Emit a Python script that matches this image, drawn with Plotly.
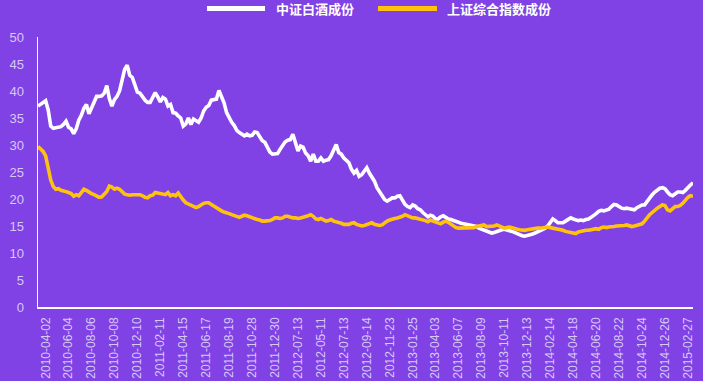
import plotly.graph_objects as go

# 中证白酒成份 (white line) – weekly values
baijiu = [
    37.2, 37.6, 38.0, 38.2, 36.5, 33.5, 33.1, 33.2, 33.2, 33.4,
    33.8, 34.4, 33.3, 33.0, 32.1, 33.0, 34.6, 35.5, 36.8, 37.5,
    35.8, 37.0, 38.2, 39.0, 39.0, 39.1, 39.6, 41.0, 38.6, 37.2,
    38.4, 39.0, 40.0, 41.8, 44.0, 44.8, 42.9, 42.5, 41.0, 39.8,
    39.6, 38.8, 38.3, 37.9, 37.9, 38.8, 39.7, 38.9, 38.0, 38.8,
    38.5, 37.2,
    37.5, 36.0, 35.9, 35.4, 35.0, 33.5, 33.9, 35.0, 33.8, 34.8,
    34.4, 34.2, 35.0, 36.3, 37.0, 37.3, 38.3, 38.4, 38.5, 40.1,
    38.8, 37.8, 36.0, 35.0, 34.2, 33.6, 32.7, 32.3, 31.9, 31.7,
    32.0, 31.7, 31.8, 32.4, 32.3, 31.4, 30.8, 30.5, 29.7, 28.7,
    28.3, 28.3, 28.4, 29.2, 29.9, 30.6, 30.9, 31.0, 32.0, 30.5,
    28.9,
    29.8, 29.6, 28.5, 28.0, 27.0, 28.3, 27.0, 27.0, 27.6, 27.0,
    27.2, 27.3, 28.0, 29.2, 30.1, 28.6, 28.3, 27.6, 27.2, 26.7,
    25.5, 24.8, 25.3, 24.2, 24.5, 25.3, 25.8, 24.8, 24.0, 23.3,
    22.1, 21.3, 20.5, 19.9, 19.6, 20.0, 20.2, 20.2, 20.5, 20.6,
    19.8, 19.0, 18.6, 18.4, 18.9, 18.7, 18.2, 18.0, 17.5, 17.0,
    16.7,
    17.0, 16.8, 16.3, 16.3, 16.7, 16.9, 16.6, 16.3, 16.2, 16.0,
    15.8, 15.7, 15.5, 15.4, 15.3, 15.2, 15.2, 15.1, 14.9, 14.6,
    14.4, 14.3, 14.0, 13.8, 13.7, 13.8, 14.0, 14.2, 14.3, 14.4,
    14.2, 14.1, 14.0, 13.8, 13.6, 13.3, 13.2, 13.1, 13.2, 13.4,
    13.5, 13.7, 13.9, 14.1, 14.3, 14.6, 15.0, 15.8, 16.3, 16.0,
    15.6,
    15.6, 15.6, 15.9, 16.3, 16.5, 16.3, 16.1, 16.0, 16.1, 16.0,
    16.2, 16.3, 16.6, 16.9, 17.3, 17.7, 17.9, 17.8, 17.9, 18.1,
    18.6, 19.0, 18.9, 18.5, 18.3, 18.2, 18.3, 18.2, 18.1, 18.0,
    18.4, 18.7, 18.9, 18.9, 19.6, 20.2, 20.8, 21.3, 21.6, 22.0,
    22.1, 21.9, 21.3, 20.8, 20.6, 21.0, 21.3, 21.3, 21.2, 21.6,
    22.2, 22.6, 23.0,
]

# 上证综合指数成份 (yellow line) – weekly values
shanghai = [
    29.7, 29.3, 28.8, 28.0, 26.0, 23.5, 22.3, 21.8, 21.9, 21.6,
    21.5, 21.4, 21.2, 21.0, 20.5, 20.8, 20.6, 21.2, 21.8, 21.6,
    21.2, 21.0, 20.8, 20.6, 20.3, 20.4, 20.8, 21.4, 22.4, 22.2,
    21.8, 22.0, 21.8, 21.3, 20.9, 20.8, 20.7, 20.8, 20.8, 20.7,
    20.8, 20.6, 20.3, 20.2, 20.6, 20.7, 21.2, 21.1, 21.0, 21.0,
    20.8, 21.2,
    20.6, 20.8, 20.6, 21.1, 20.4, 19.8, 19.3, 19.1, 18.8, 18.6,
    18.4, 18.6, 18.9, 19.2, 19.3, 19.3, 19.0, 18.7, 18.4, 18.0,
    17.8, 17.6, 17.5, 17.3, 17.1, 16.9, 16.7, 16.6, 16.8, 17.0,
    16.9, 16.7, 16.5, 16.4, 16.2, 16.1, 15.9, 15.9, 15.9, 16.0,
    16.2, 16.5, 16.5, 16.4, 16.5, 16.8, 16.8, 16.6, 16.5, 16.5,
    16.4,
    16.5, 16.6, 16.8, 16.9, 17.1, 16.8, 16.3, 16.2, 16.4, 16.1,
    15.9, 16.0, 16.2, 15.9, 15.8, 15.6, 15.5, 15.3, 15.3, 15.3,
    15.5, 15.6, 15.3, 15.2, 15.0, 15.1, 15.3, 15.5, 15.6, 15.3,
    15.2, 15.1, 15.2, 15.6, 15.9, 16.1, 16.3, 16.4, 16.5, 16.6,
    16.8, 17.1, 16.9, 16.8, 16.5, 16.5, 16.4, 16.3, 16.2, 16.0,
    15.8,
    16.1, 15.9, 15.7, 15.5, 15.4, 15.7, 15.9, 15.7, 15.3, 14.9,
    14.7, 14.6, 14.6, 14.7, 14.7, 14.7, 14.7, 14.7, 14.9, 15.0,
    15.1, 15.2, 14.9, 14.9, 15.0, 15.0, 15.2, 15.0, 14.7, 14.6,
    14.7, 14.8, 14.7, 14.5, 14.4, 14.3, 14.2, 14.2, 14.3, 14.4,
    14.5, 14.5, 14.6, 14.6, 14.7, 14.8, 14.8, 14.7, 14.6, 14.5,
    14.4,
    14.4, 14.2, 14.0, 13.9, 13.8, 13.7, 13.6, 13.9, 14.0, 14.2,
    14.2, 14.2, 14.3, 14.4, 14.5, 14.4, 14.7, 14.8, 14.7, 14.8,
    14.8, 14.9, 15.0, 15.0, 15.1, 15.1, 15.2, 15.1, 14.9, 15.0,
    15.1, 15.2, 15.4, 15.9, 16.6, 17.1, 17.5, 18.0, 18.3, 18.6,
    18.9, 18.8, 18.0, 17.8, 18.3, 18.6, 18.6, 18.8, 19.2, 19.8,
    20.3, 20.6, 20.5,
]

# x-axis tick labels (one every 9 weeks)
tick_labels = [
    "2010-04-02", "2010-06-04", "2010-08-06", "2010-10-08", "2010-12-10",
    "2011-02-11", "2011-04-15", "2011-06-17", "2011-08-19", "2011-10-28",
    "2011-12-30", "2012-07-13", "2012-05-11", "2012-07-13", "2012-09-14",
    "2012-11-23", "2013-01-25", "2013-04-03", "2013-06-07", "2013-08-09",
    "2013-10-11", "2013-12-13", "2014-02-14", "2014-04-18", "2014-06-20",
    "2014-08-22", "2014-10-24", "2014-12-26", "2015-02-27",
]

series_names = ["中证白酒成份", "上证综合指数成份"]
colors = ["#ffffff", "#ffc20e"]

BG = "#8041e5"
LABEL = "#d8c8f6"

x = list(range(len(baijiu)))
tickvals = [3 + 9 * k for k in range(len(tick_labels))]

fig = go.Figure()
for name, ys, c in zip(series_names, [baijiu, shanghai], colors):
    fig.add_trace(go.Scatter(x=x, y=ys, mode="lines", name=name,
                             line=dict(color=c, width=3.6),
                             showlegend=False, hoverinfo="skip"))

W, H = 703, 381
L, R, T, B = 38, 10, 37, 74
pw, ph = W - L - R, H - T - B


def px(xp):
    return (xp - L) / pw


def py(yp):
    return (H - B - yp) / ph


legend_items = [(207, 265, 274), (378, 437, 445)]
for (x0, x1, tx), name, c in zip(legend_items, series_names, colors):
    fig.add_shape(type="line", xref="paper", yref="paper",
                  x0=px(x0), x1=px(x1), y0=py(8.5), y1=py(8.5),
                  line=dict(color=c, width=5))
    fig.add_annotation(xref="paper", yref="paper", x=px(tx), y=py(8.5),
                       text=name, showarrow=False, xanchor="left",
                       yanchor="middle",
                       font=dict(family="Noto Sans CJK SC", size=13,
                                 color="#ffffff", weight=700))

fig.update_layout(
    width=W, height=H,
    margin=dict(l=L, r=R, t=T, b=B, autoexpand=False),
    paper_bgcolor=BG, plot_bgcolor=BG,
    font=dict(family="Liberation Sans, Arial, sans-serif", color=LABEL),
    xaxis=dict(range=[0, len(baijiu) - 1], tickvals=tickvals,
               ticktext=tick_labels, tickangle=-90,
               tickfont=dict(size=12, color=LABEL),
               showgrid=False, zeroline=False, showline=True,
               linecolor="#ffffff", linewidth=1.5, ticks="",
               ticklabelstandoff=4, automargin=False),
    yaxis=dict(range=[0, 50], dtick=5, tickfont=dict(size=13, color=LABEL),
               showgrid=False, zeroline=False, showline=True,
               linecolor="#ffffff", linewidth=1.5, ticks="",
               ticklabelstandoff=10, automargin=False),
)

fig.write_html(
    "out.html",
    config={"displayModeBar": False, "staticPlot": True},
    post_script=(
        "document.body.style.margin='0';"
        "document.body.style.overflow='hidden';"
        f"document.body.style.background='{BG}';"
    ),
)
